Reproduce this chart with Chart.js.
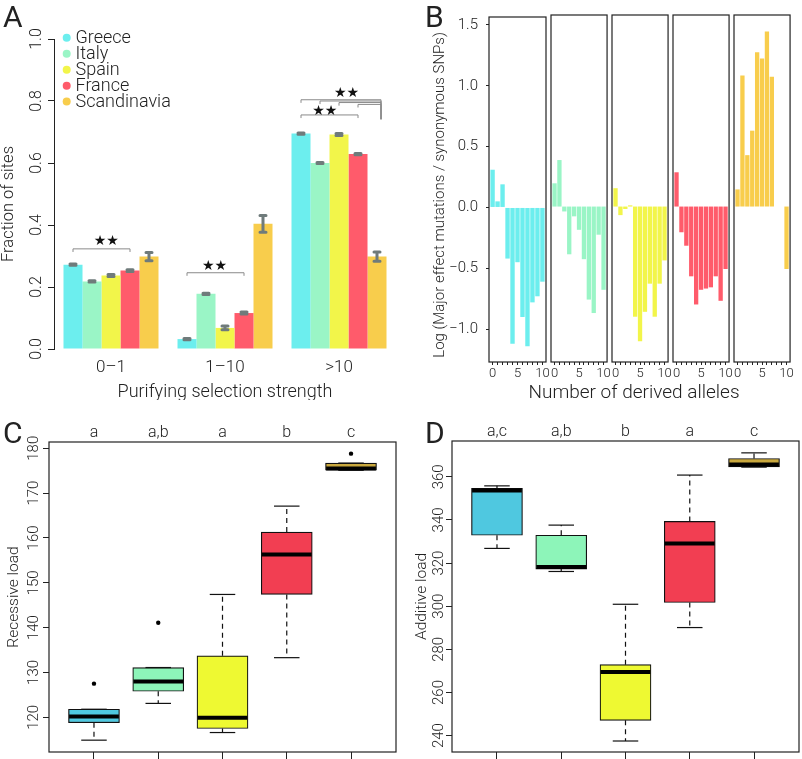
<!DOCTYPE html>
<html>
<head>
<meta charset="utf-8">
<script src="https://cdn.jsdelivr.net/npm/chart.js@4.4.0/dist/chart.umd.min.js"></script>
<style>
  body { margin: 0; background: #fff; width: 802px; height: 759px; position: relative; overflow: hidden; }
  canvas { position: absolute; }
</style>
</head>
<body>
<canvas id="chartA" width="400" height="400" style="left:0;top:0"></canvas>
<canvas id="chartB0" width="402" height="400" style="left:400px;top:0"></canvas>
<canvas id="chartB1" width="65" height="400" style="left:547px;top:0"></canvas>
<canvas id="chartB2" width="65" height="400" style="left:608px;top:0"></canvas>
<canvas id="chartB3" width="65" height="400" style="left:669px;top:0"></canvas>
<canvas id="chartB4" width="65" height="400" style="left:730px;top:0"></canvas>
<canvas id="chartC" width="400" height="359" style="left:0;top:400px"></canvas>
<canvas id="chartD" width="402" height="359" style="left:400px;top:400px"></canvas>
<script>
  "use strict";

  // ---- data ----
  const regions = ["Greece", "Italy", "Spain", "France", "Scandinavia"];

  // A: fraction of sites per purifying selection class
  const strengthBins = ["0\u20131", "1\u201310", ">10"];
  const fracGreece = [0.272, 0.032, 0.695];
  const fracItaly = [0.218, 0.178, 0.600];
  const fracSpain = [0.237, 0.068, 0.692];
  const fracFrance = [0.253, 0.116, 0.629];
  const fracScandinavia = [0.298, 0.404, 0.298];
  const errGreece = [0.002, 0.002, 0.002];
  const errItaly = [0.002, 0.002, 0.002];
  const errSpain = [0.003, 0.006, 0.003];
  const errFrance = [0.003, 0.003, 0.002];
  const errScandinavia = [0.013, 0.027, 0.015];
  // significance brackets (bin, from region, to region, height, end drop)
  const bracketBin = [0, 1, 2, 2, 2, 2, 2];
  const bracketFrom = [0, 0, 0, 0, 1, 2, 3];
  const bracketTo = [3, 3, 3, 4, 4, 4, 4];
  const bracketLevel = [0.323, 0.246, 0.755, 0.804, 0.800, 0.795, 0.789];
  const bracketEnd = [0.313, 0.236, 0.745, 0.741, 0.741, 0.741, 0.741];
  const starBin = [0, 1, 2, 2];
  const starPos = [1.75, 1.45, 1.25, 2.4];
  const starLevel = [0.348, 0.268, 0.766, 0.826];

  // B: log(major effect / synonymous) per number of derived alleles
  const derivedAlleles = [0, 1, 2, 3, 4, 5, 6, 7, 8, 9, 10];
  const logGreece = [0.31, 0.05, 0.19, -0.42, -1.12, -0.45, -0.90, -1.14, -0.78, -0.73, -0.61];
  const logItaly = [0.19, 0.38, -0.04, -0.39, -0.08, -0.19, -0.43, -0.76, -0.87, -0.23, -0.68];
  const logSpain = [0.15, -0.07, -0.02, 0.01, -0.90, -1.10, -0.86, -0.63, -0.90, -0.63, -0.44];
  const logFrance = [0.28, -0.21, -0.32, -0.57, -0.80, -0.68, -0.67, -0.66, -0.57, -0.77, -0.51];
  const logScandinavia = [0.14, 1.07, 0.42, 0.62, 1.26, 1.21, 1.43, 1.06, null, null, -0.51];

  // C: recessive load boxplots
  const recLow = [114.9, 123.1, 116.6, 133.3, 175.1];
  const recQ1 = [118.8, 125.8, 117.5, 147.4, 175.1];
  const recMedian = [120.2, 128.0, 119.9, 156.3, 175.5];
  const recQ3 = [121.8, 131.1, 133.7, 161.3, 176.7];
  const recHigh = [121.8, 131.1, 147.4, 167.1, 176.7];
  const recOutlier = [127.5, 141.1, null, null, 178.8];
  const recGroups = ["a", "a,b", "a", "b", "c"];

  // D: additive load boxplots
  const addLow = [326.8, 316.1, 237.5, 290.1, 364.5];
  const addQ1 = [332.9, 317.2, 247.1, 301.7, 364.6];
  const addMedian = [353.6, 318.2, 269.5, 329.1, 365.7];
  const addQ3 = [354.6, 332.9, 272.9, 339.3, 368.5];
  const addHigh = [355.8, 337.6, 300.9, 360.8, 371.1];
  const addGroups = ["a,c", "a,b", "b", "a", "c"];

  // ---- style ----
  const barColors = ["#6ceeee", "#9af5c6", "#f2f54a", "#ff5b6b", "#f8cd4c"];
  const boxColors = ["#4fc8e0", "#8df5b9", "#eef932", "#f23e52", "#c9a83e"];
  const FAMILY = "Roboto, 'Liberation Sans', sans-serif";
  const ink = "#222";

  Chart.defaults.font.family = FAMILY;
  Chart.defaults.font.weight = 300;
  Chart.defaults.color = ink;
  Chart.defaults.animation = false;
  Chart.defaults.plugins.legend.display = false;
  Chart.defaults.plugins.tooltip.enabled = false;

  function font(size, weight) {
    return (weight || 300) + " " + size + "px " + FAMILY;
  }

  // free text (panel letters, axis titles)
  function textPlugin(items) {
    return {
      id: "texts",
      afterDraw(chart) {
        const ctx = chart.ctx;
        items.forEach((it) => {
          ctx.save();
          ctx.font = font(it.size, it.weight);
          ctx.fillStyle = ink;
          ctx.textAlign = it.align || "center";
          ctx.textBaseline = it.baseline || "middle";
          const x = typeof it.x === "function" ? it.x(chart) : it.x;
          const y = typeof it.y === "function" ? it.y(chart) : it.y;
          ctx.translate(x, y);
          if (it.rotate) ctx.rotate(-Math.PI / 2);
          ctx.fillText(it.text, 0, 0);
          ctx.restore();
        });
      },
    };
  }

  // R-style y tick labels, turned 90 degrees
  function rotatedTicks(x, size, digits) {
    return {
      id: "rotTicks",
      afterDraw(chart) {
        const sc = chart.scales.y;
        const ctx = chart.ctx;
        ctx.save();
        ctx.font = font(size);
        ctx.fillStyle = ink;
        ctx.textAlign = "center";
        ctx.textBaseline = "middle";
        sc.ticks.forEach((t) => {
          ctx.save();
          ctx.translate(x, sc.getPixelForValue(t.value));
          ctx.rotate(-Math.PI / 2);
          ctx.fillText(t.value.toFixed(digits), 0, 0);
          ctx.restore();
        });
        ctx.restore();
      },
    };
  }

  const framePlugin = {
    id: "frame",
    afterDatasetsDraw(chart) {
      const { ctx, chartArea: a } = chart;
      ctx.save();
      ctx.strokeStyle = ink;
      ctx.lineWidth = 1.2;
      ctx.strokeRect(a.left, a.top, a.right - a.left, a.bottom - a.top);
      ctx.restore();
    },
  };

  // ---- panel A ----
  const fracSeries = [fracGreece, fracItaly, fracSpain, fracFrance, fracScandinavia];
  const errSeries = [errGreece, errItaly, errSpain, errFrance, errScandinavia];

  const panelAExtras = {
    id: "panelA",
    afterDatasetsDraw(chart) {
      const ctx = chart.ctx;
      const ys = chart.scales.y;
      const barX = (s, g) => chart.getDatasetMeta(s).data[g].x;
      const posX = (pos, g) => {
        const i = Math.min(Math.floor(pos), 3);
        return barX(i, g) + (barX(i + 1, g) - barX(i, g)) * (pos - i);
      };
      ctx.save();

      // error bars
      ctx.strokeStyle = "#6f7b7b";
      ctx.lineCap = "round";
      ctx.lineWidth = 3;
      fracSeries.forEach((vals, s) => {
        vals.forEach((v, g) => {
          const x = barX(s, g);
          const y1 = ys.getPixelForValue(v + errSeries[s][g]);
          const y2 = ys.getPixelForValue(v - errSeries[s][g]);
          ctx.beginPath();
          ctx.moveTo(x, y1); ctx.lineTo(x, y2);
          ctx.moveTo(x - 3, y1); ctx.lineTo(x + 3, y1);
          ctx.moveTo(x - 3, y2); ctx.lineTo(x + 3, y2);
          ctx.stroke();
        });
      });

      // brackets
      ctx.lineCap = "butt";
      ctx.lineWidth = 1;
      ctx.strokeStyle = "#8a8a8a";
      bracketBin.forEach((g, k) => {
        const x1 = barX(bracketFrom[k], g);
        const x2 = barX(bracketTo[k], g) + (bracketTo[k] === 4 ? 4 : 0);
        const y = ys.getPixelForValue(bracketLevel[k]);
        ctx.beginPath();
        ctx.moveTo(x1, ys.getPixelForValue(bracketLevel[k] - 0.01));
        ctx.lineTo(x1, y);
        ctx.lineTo(x2, y);
        ctx.lineTo(x2, ys.getPixelForValue(bracketEnd[k]));
        ctx.stroke();
      });

      // stars
      ctx.fillStyle = "#111";
      ctx.font = "14px 'DejaVu Sans'";
      ctx.textAlign = "center";
      ctx.textBaseline = "middle";
      starBin.forEach((g, k) => {
        ctx.fillText("\u2605\u2605", posX(starPos[k], g), ys.getPixelForValue(starLevel[k]));
      });

      // legend
      ctx.font = font(18);
      ctx.textAlign = "left";
      ctx.textBaseline = "alphabetic";
      regions.forEach((name, i) => {
        const y = 37.8 + i * 15.95;
        ctx.fillStyle = barColors[i];
        ctx.beginPath();
        ctx.arc(66.7, y, 4, 0, Math.PI * 2);
        ctx.fill();
        ctx.fillStyle = ink;
        ctx.fillText(name, 75.5, y + 5.5);
      });
      ctx.restore();
    },
  };

  new Chart(document.getElementById("chartA"), {
    type: "bar",
    data: {
      labels: strengthBins,
      datasets: regions.map((name, i) => ({
        label: name,
        data: fracSeries[i],
        backgroundColor: barColors[i],
        borderWidth: 0,
        categoryPercentage: 5 / 6,
        barPercentage: 1,
      })),
    },
    options: {
      responsive: false,
      layout: { padding: { top: 39, right: 4, left: 0, bottom: 0 } },
      scales: {
        x: {
          grid: { display: false },
          border: { display: false },
          ticks: { font: { size: 17 }, padding: 1 },
          afterFit: (s) => { s.height = 51; },
        },
        y: {
          min: 0,
          max: 1,
          ticks: { display: false, stepSize: 0.2 },
          grid: { drawOnChartArea: false, tickLength: 6, color: ink },
          border: { color: ink },
          afterFit: (s) => { s.width = 54; },
        },
      },
    },
    plugins: [
      panelAExtras,
      rotatedTicks(37, 16, 1),
      textPlugin([
        { text: "A", x: 3, y: 27, size: 30, weight: 400, align: "left", baseline: "alphabetic" },
        { text: "Fraction of sites", x: 9, y: 204, size: 16.5, rotate: true },
        { text: "Purifying selection strength", x: 225, y: 392, size: 18 },
      ]),
    ],
  });

  // ---- panel B ----
  const logSeries = [logGreece, logItaly, logSpain, logFrance, logScandinavia];

  logSeries.forEach((vals, k) => {
    const first = k === 0;
    const yAxis = {
      display: first,
      min: -1.27,
      max: 1.565,
      ticks: {
        stepSize: 0.5,
        includeBounds: false,
        padding: 8,
        font: { size: 15 },
        callback: (v) => v.toFixed(1).replace("-", "\u2212"),
      },
      grid: { drawOnChartArea: false, tickLength: 3, color: ink },
      border: { display: false },
    };
    // only the visible axis gets a fixed width (hidden ones would eat the chart area)
    if (first) yAxis.afterFit = (s) => { s.width = 89; };

    new Chart(document.getElementById("chartB" + k), {
      type: "bar",
      data: {
        labels: derivedAlleles,
        datasets: [{
          label: regions[k],
          data: vals,
          backgroundColor: barColors[k],
          borderWidth: 0,
          categoryPercentage: 1,
          barPercentage: 0.88,
        }],
      },
      options: {
        responsive: false,
        layout: { padding: { top: 15, left: first ? 0 : 4, right: first ? 256 : 4, bottom: 0 } },
        scales: {
          x: {
            type: "linear",
            offset: false,
            min: -0.72,
            max: 10.72,
            ticks: {
              stepSize: 1,
              includeBounds: false,
              autoSkip: false,
              maxRotation: 0,
              padding: 1,
              font: { size: 13 },
              callback: (v) => (v % 5 === 0 ? String(v) : ""),
            },
            grid: { offset: false, drawOnChartArea: false, tickLength: 3, color: ink },
            border: { display: false },
            afterFit: (s) => { s.height = 38; },
          },
          y: yAxis,
        },
      },
      plugins: first
        ? [framePlugin, textPlugin([
            { text: "B", x: 25, y: 27, size: 30, weight: 400, align: "left", baseline: "alphabetic" },
            { text: "Log (Major effect mutations / synonymous SNPs)", x: 40, y: 195, size: 15, rotate: true },
            { text: "Number of derived alleles", x: 234, y: 393, size: 19 },
          ])]
        : [framePlugin],
    });
  });

  // ---- panels C and D (boxplots) ----
  function boxWhiskers(low, q1, median, q3, high, groups) {
    return {
      id: "whiskers",
      afterDatasetsDraw(chart) {
        const ctx = chart.ctx;
        const ys = chart.scales.y;
        const boxes = chart.getDatasetMeta(0).data;
        ctx.save();
        boxes.forEach((bar, i) => {
          const x = bar.x;
          const half = bar.width / 2;
          ctx.strokeStyle = "#111";
          ctx.lineWidth = 1.2;
          ctx.setLineDash([5, 4]);
          [[q3[i], high[i]], [q1[i], low[i]]].forEach(([a, b]) => {
            if (a === b) return;
            ctx.beginPath();
            ctx.moveTo(x, ys.getPixelForValue(a));
            ctx.lineTo(x, ys.getPixelForValue(b));
            ctx.stroke();
          });
          ctx.setLineDash([]);
          [high[i], low[i]].forEach((v) => {
            const y = ys.getPixelForValue(v);
            ctx.beginPath();
            ctx.moveTo(x - half / 2, y);
            ctx.lineTo(x + half / 2, y);
            ctx.stroke();
          });
          ctx.lineWidth = 4;
          ctx.strokeStyle = "#000";
          const ym = ys.getPixelForValue(median[i]);
          ctx.beginPath();
          ctx.moveTo(x - half + 0.6, ym);
          ctx.lineTo(x + half - 0.6, ym);
          ctx.stroke();

          // group letters above the frame
          ctx.fillStyle = ink;
          ctx.font = font(16);
          ctx.textAlign = "center";
          ctx.textBaseline = "middle";
          ctx.fillText(groups[i], x, chart.chartArea.top - 9);
        });
        ctx.restore();
      },
    };
  }

  function boxChart(id, cfg) {
    const datasets = [{
      type: "bar",
      label: "box",
      data: regions.map((_, i) => ({ x: i + 1, y: [cfg.q1[i], cfg.q3[i]] })),
      backgroundColor: boxColors,
      borderColor: "#111",
      borderWidth: 1.2,
      borderSkipped: false,
      barThickness: 51,
    }];
    if (cfg.outliers) {
      datasets.push({
        type: "scatter",
        label: "outliers",
        data: cfg.outliers
          .map((v, i) => (v === null ? null : { x: i + 1, y: v }))
          .filter((p) => p !== null),
        pointRadius: 2.2,
        pointBackgroundColor: "#000",
        pointBorderWidth: 0,
      });
    }
    new Chart(document.getElementById(id), {
      type: "bar",
      data: { datasets },
      options: {
        responsive: false,
        layout: { padding: { top: cfg.top, right: cfg.right, left: 0, bottom: 0 } },
        scales: {
          x: {
            type: "linear",
            offset: false,
            min: 0.3,
            max: 5.7,
            ticks: { display: false, stepSize: 1, includeBounds: false },
            grid: { offset: false, drawOnChartArea: false, tickLength: 7, color: ink },
            border: { display: false },
            afterFit: (s) => { s.height = 7; },
          },
          y: {
            min: cfg.min,
            max: cfg.max,
            ticks: { display: false, stepSize: cfg.step, includeBounds: false },
            grid: { drawOnChartArea: false, tickLength: 6, color: ink },
            border: { display: false },
            afterFit: (s) => { s.width = cfg.axisWidth; },
          },
        },
      },
      plugins: [
        framePlugin,
        boxWhiskers(cfg.low, cfg.q1, cfg.median, cfg.q3, cfg.high, cfg.groups),
        rotatedTicks(cfg.tickX, 15, 0),
        textPlugin([
          { text: cfg.letter, x: cfg.letterX, y: 43, size: 30, weight: 400, align: "left", baseline: "alphabetic" },
          { text: cfg.title, x: cfg.titleX, y: (c) => (c.chartArea.top + c.chartArea.bottom) / 2, size: 15.5, rotate: true },
        ]),
      ],
    });
  }

  boxChart("chartC", {
    low: recLow, q1: recQ1, median: recMedian, q3: recQ3, high: recHigh,
    outliers: recOutlier, groups: recGroups,
    min: 112.26, max: 181.4, step: 10,
    top: 42, right: 4, axisWidth: 49, tickX: 34,
    letter: "C", letterX: 3, title: "Recessive load", titleX: 14,
  });

  boxChart("chartD", {
    low: addLow, q1: addQ1, median: addMedian, q3: addQ3, high: addHigh,
    outliers: null, groups: addGroups,
    min: 232.4, max: 376.6, step: 20,
    top: 41, right: 3, axisWidth: 52, tickX: 39,
    letter: "D", letterX: 25, title: "Additive load", titleX: 22,
  });
</script>
</body>
</html>
